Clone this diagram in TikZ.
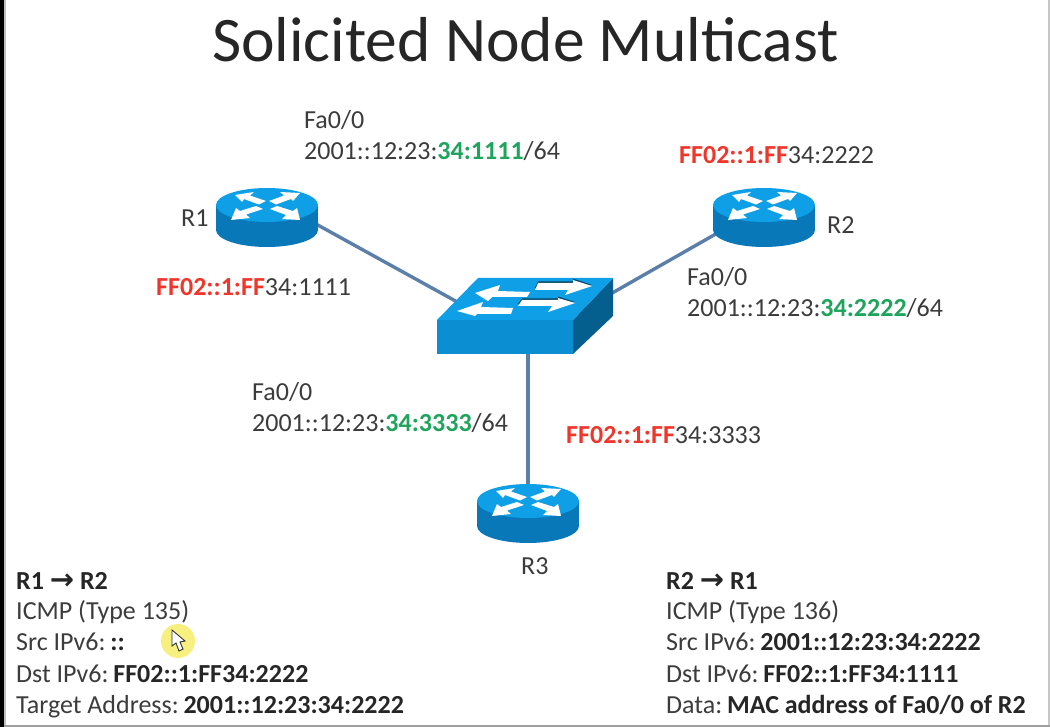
\documentclass[tikz,border=0pt]{standalone}
\usepackage{fontspec}
\setmainfont{Carlito}
\newfontfamily\arrowfont{DejaVu Sans}
\definecolor{txt}{HTML}{3C3C3C}
\definecolor{redt}{HTML}{F0362B}
\definecolor{grn}{HTML}{1FA45C}
\definecolor{lnk}{HTML}{5B7FA8}
\definecolor{topb}{HTML}{0F9FE6}
\definecolor{sideb}{HTML}{0878B8}
\definecolor{frontb}{HTML}{0C8FD2}
\definecolor{darkb}{HTML}{055F8E}
\definecolor{cursory}{HTML}{F7F07E}
\newcommand{\rd}[1]{\textbf{\textcolor{redt}{#1}}}
\newcommand{\gr}[1]{\textbf{\textcolor{grn}{#1}}}
\newcommand{\boldtxt}[1]{\hspace{-3pt}\textbf{\textcolor{black!85}{#1}}}
\newcommand{\headtxt}[3]{\textbf{\textcolor{black!85}{#1 {\arrowfont\fontsize{29}{30}\selectfont→} #2}}#3}
\tikzset{
 lab/.style={anchor=base west,inner sep=0pt,font=\fontsize{26}{29}\selectfont,text=txt},
 btm/.style={anchor=base west,inner sep=0pt,font=\fontsize{26}{29}\selectfont,text=txt},
 anchorpt/.style={inner sep=0pt,minimum size=1pt},
 linkline/.style={draw=lnk,line width=3.4pt},
 wharrow/.style={fill=white,draw=none},
 shadowarrow/.style={fill=darkb!70!black,draw=none},
 pics/router/.style={code={
  \fill[sideb] (-51,0) rectangle (51,25);
  \fill[sideb] (0,25) ellipse[x radius=51,y radius=17];
  \fill[topb] (0,0) ellipse[x radius=51,y radius=17];
  \fill[wharrow] (-32,-10) -- (-13,-13) -- (-17,-9.5) -- (-1,-4) -- (-8,-0.5) -- (-23,-6) -- (-25,-3) -- cycle;
  \fill[wharrow] (33,-12) -- (13,-13) -- (17,-9.5) -- (2,-4) -- (9,-0.5) -- (24,-6) -- (26,-4) -- cycle;
  \fill[wharrow] (-36,15) -- (-17,13) -- (-21,9.5) -- (-4,4) -- (-11,1) -- (-27,6) -- (-31,3) -- cycle;
  \fill[wharrow] (33,15) -- (15,14) -- (19,10) -- (3,4) -- (10,1) -- (26,6) -- (30,3) -- cycle;
 }},
}
\begin{document}
\begin{tikzpicture}[x=1pt,y=-1pt]
\useasboundingbox (0,0) rectangle (1050,727);
\fill[white] (0,0) rectangle (1050,727);
\fill[black] (0,0) rectangle (4,727);
\fill[gray!50] (4,0) rectangle (5.5,725);
\fill[gray!45] (1047.5,0) rectangle (1050,727);
\fill[gray!75] (4,725) rectangle (1050,727);
% anchors
\node[anchorpt] (r1) at (267,197) {};
\node[anchorpt] (r2) at (764,206.5) {};
\node[anchorpt] (r3) at (528,511) {};
\node[anchorpt] (sw) at (528,341) {};
% links
\draw[linkline] (r1) -- (sw);
\draw[linkline] (r2) -- (sw);
\draw[linkline] (r3) -- (sw);
% routers
\pic at (267,205) {router};
\pic at (764,205) {router};
\pic at (528,501) {router};
% switch
\fill[frontb] (437,320) rectangle (573,354);
\fill[darkb] (573,320) -- (613,278) -- (613,316) -- (573,354) -- cycle;
\fill[topb] (437,320) -- (478,278) -- (613,278) -- (573,320) -- cycle;
\fill[shadowarrow] (573,278.5) -- (573,281.5) -- (538,281.5) -- (535,288) -- (568,288) -- (592,285) -- cycle;
\fill[shadowarrow] (558,296.5) -- (558,298.5) -- (522,298.5) -- (518,304) -- (552,304) -- (575,302) -- cycle;
\fill[wharrow] (475,293) -- (500,285) -- (498,291) -- (530,292) -- (527,297) -- (492,297) -- (488,301) -- cycle;
\fill[wharrow] (457,311) -- (483,302) -- (481,307) -- (513,308) -- (511,314) -- (477,314) -- (475,316) -- cycle;
\fill[wharrow] (592,286) -- (573,280) -- (573,283) -- (538,283) -- (535,290) -- (568,290) -- (565,295) -- cycle;
\fill[wharrow] (575,303) -- (558,298) -- (558,300) -- (522,300) -- (518,306) -- (552,306) -- (548,312) -- cycle;
% labels
\node[lab] (t1a) at (304,129) {Fa0/0};
\node[lab] (t1b) at (304,160) {2001::12:23:\gr{34:1111}/64};
\node[lab] (m2) at (679,164) {\rd{FF02::1:FF}34:2222};
\node[lab] (n1) at (181,227) {R1};
\node[lab] (n2) at (827,234) {R2};
\node[lab] (m1) at (156,296) {\rd{FF02::1:FF}34:1111};
\node[lab] (t2a) at (687,286) {Fa0/0};
\node[lab] (t2b) at (687,317) {2001::12:23:\gr{34:2222}/64};
\node[lab] (t3a) at (252,400) {Fa0/0};
\node[lab] (t3b) at (252,431) {2001::12:23:\gr{34:3333}/64};
\node[lab] (m3) at (566,443) {\rd{FF02::1:FF}34:3333};
\node[lab] (n3) at (521,574) {R3};
\node[anchor=base west,inner sep=0pt,font=\fontsize{63.5}{70}\selectfont,text=black!85] (title) at (212,61.5) {Solicited Node Multicast};
% cursor highlight
\fill[cursory] (178,641) circle[radius=17];
\fill[white,draw=black!80,line width=0.9pt] (172,630) -- (172,646) -- (176,643) -- (179,651) -- (183,649) -- (180,642) -- (185,641) -- cycle;
% bottom text
\node[btm] (l1) at (16,589) {\headtxt{R1}{R2}{}};
\node[btm] (l2) at (16,619) {ICMP (Type 135)};
\node[btm] (l3) at (16,650) {Src IPv6: \boldtxt{::}};
\node[btm] (l4) at (16,682) {Dst IPv6: \boldtxt{FF02::1:FF34:2222}};
\node[btm] (l5) at (16,713) {Target Address: \boldtxt{2001::12:23:34:2222}};
\node[btm] (r1t) at (666,589) {\headtxt{R2}{R1}{}};
\node[btm] (r2t) at (666,619) {ICMP (Type 136)};
\node[btm] (r3t) at (666,650) {Src IPv6: \boldtxt{2001::12:23:34:2222}};
\node[btm] (r4t) at (666,682) {Dst IPv6: \boldtxt{FF02::1:FF34:1111}};
\node[btm] (r5t) at (666,713) {Data: \boldtxt{MAC address of Fa0/0 of R2}};
\end{tikzpicture}
\end{document}
